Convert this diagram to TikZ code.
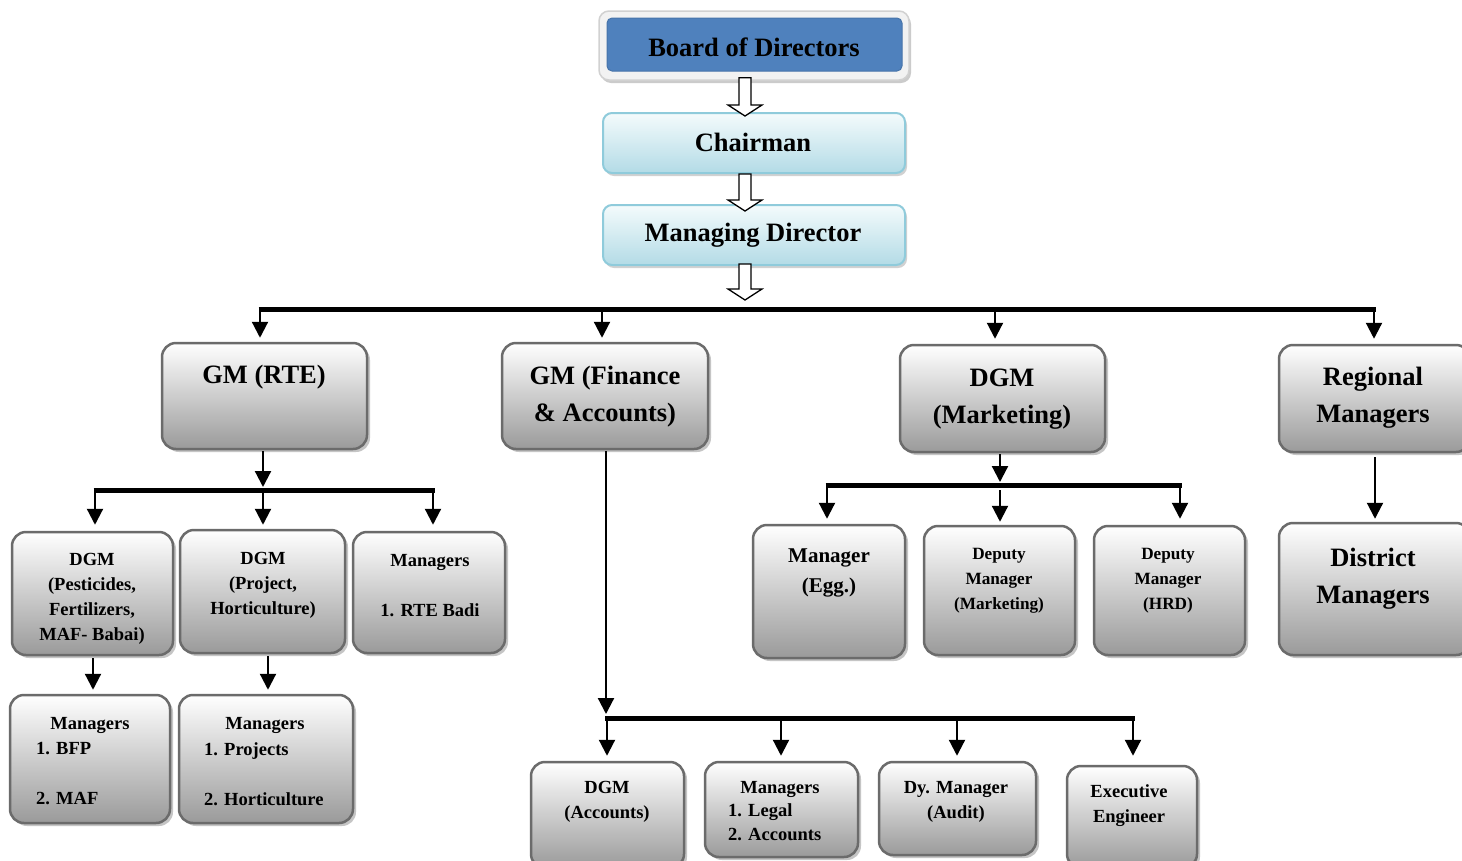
\documentclass[tikz,border=0pt]{standalone}
\usepackage{fontspec}
\setmainfont{Liberation Serif}
\usetikzlibrary{arrows.meta,shadows,calc}
\definecolor{boxborder}{HTML}{6B6B6B}
\definecolor{boxbottom}{HTML}{9A9A9A}
\definecolor{bodblue}{HTML}{4F81BD}
\definecolor{cyanborder}{HTML}{8FCBDB}
\definecolor{cyanbottom}{HTML}{B3DBE6}
\definecolor{cyantop}{HTML}{F4FBFC}
\tikzset{
  greybox/.style={draw=boxborder, line width=2.5pt, rounded corners=14pt,
    top color=white, bottom color=boxbottom,
    drop shadow={shadow xshift=3pt,shadow yshift=-3pt,fill=black!45,opacity=0.5}, inner sep=0pt},
  cyanbox/.style={draw=cyanborder, line width=2pt, rounded corners=9pt,
    top color=cyantop, bottom color=cyanbottom,
    drop shadow={shadow xshift=2pt,shadow yshift=-3pt,fill=black!40,opacity=0.45}, inner sep=0pt},
  framebox/.style={draw=black!18, fill=black!5, line width=1.5pt, rounded corners=10pt,
    drop shadow={shadow xshift=2pt,shadow yshift=-3pt,fill=black!40,opacity=0.5}, inner sep=0pt},
  bluebox/.style={draw=bodblue!90!black, fill=bodblue, line width=1pt, rounded corners=5pt, inner sep=0pt},
  bigtxt/.style={font=\fontsize{26.5}{37}\selectfont\bfseries, align=center, inner sep=0pt},
  smalltxt/.style={font=\fontsize{18.5}{25}\selectfont\bfseries, align=center, inner sep=0pt},
  legaltxt/.style={font=\fontsize{18.5}{24}\selectfont\bfseries, align=left, inner sep=0pt},
  eggtxt/.style={font=\fontsize{21}{30}\selectfont\bfseries, align=center, inner sep=0pt},
  deptxt/.style={font=\fontsize{17.2}{25}\selectfont\bfseries, align=center, inner sep=0pt},
  arr/.style={line width=2.2pt, -{Triangle[width=16pt,length=16pt]}},
  bar/.style={line width=5pt},
  hollow/.style={draw=black, fill=white, line width=1.3pt, line join=miter}
}
\newcommand\orgbox[6]{\node[#1,minimum width={#5-#3},minimum height={#6-#4}] (#2) at ({(#3+#5)/2},{(#4+#6)/2}) {};}
\newcommand\hollowarrow[2]{\draw[hollow] ($(#1)+(-6,0)$) -- ($(#1)+(6,0)$) -- ($(#2)+(6,-11)$) -- ($(#2)+(17,-11)$) -- (#2) -- ($(#2)+(-17,-11)$) -- ($(#2)+(-6,-11)$) -- cycle;}
\begin{document}
\begin{tikzpicture}[x=1pt,y=-1pt]
\clip (0,0) rectangle (1462,860);
\fill[white] (0,0) rectangle (1462,860);
% boxes
\orgbox{framebox}{bodframe}{599}{11}{909}{80}
\orgbox{bluebox}{bod}{607}{18}{902}{71}
\orgbox{cyanbox}{chair}{603}{113}{905}{173}
\orgbox{cyanbox}{md}{603}{205}{905}{265}
\orgbox{greybox}{gmrte}{162}{343}{367}{449}
\orgbox{greybox}{gmfin}{502}{343}{708}{449}
\orgbox{greybox}{dgmmkt}{900}{345}{1105}{452}
\orgbox{greybox}{regm}{1279}{345}{1470}{452}
\orgbox{greybox}{dgmpest}{12}{532}{173}{655}
\orgbox{greybox}{dgmproj}{180}{530}{345}{653}
\orgbox{greybox}{mgrrte}{353}{532}{505}{653}
\orgbox{greybox}{mgrbfp}{10}{695}{170}{823}
\orgbox{greybox}{mgrproj}{179}{695}{353}{823}
\orgbox{greybox}{dgmacc}{531}{762}{684}{868}
\orgbox{greybox}{mgrlegal}{705}{762}{858}{857}
\orgbox{greybox}{dyaudit}{879}{762}{1036}{855}
\orgbox{greybox}{exeng}{1067}{766}{1197}{868}
\orgbox{greybox}{mgregg}{753}{525}{905}{658}
\orgbox{greybox}{depmkt}{924}{526}{1075}{655}
\orgbox{greybox}{dephrd}{1094}{526}{1245}{655}
\orgbox{greybox}{distm}{1279}{523}{1470}{655}
% texts
\node[bigtxt] (bod-t) at (754,47) {Board of Directors};
\node[bigtxt] (chair-t) at (753,142) {Chairman};
\node[bigtxt] (md-t) at (753,235) {Managing Director};
\node[bigtxt] (gmrte-t) at (264,377) {GM (RTE)};
\node[bigtxt] (gmfin-t) at (605,397) {GM (Finance\\\& Accounts)};
\node[bigtxt] (dgmmkt-t) at (1002,399) {DGM\\(Marketing)};
\node[bigtxt] (regm-t) at (1373,398) {Regional\\Managers};
\node[bigtxt] (distm-t) at (1373,578.5) {District\\Managers};
\node[smalltxt] (dgmpest-t) at (92,598.5) {DGM\\(Pesticides,\\Fertilizers,\\MAF- Babai)};
\node[smalltxt] (dgmproj-t) at (263,585.5) {DGM\\(Project,\\Horticulture)};
\node[smalltxt] (mgrrte-t) at (430,586) {Managers\\[25pt]1. RTE Badi};
\node[smalltxt] (mgrbfp-h) at (90,725) {Managers};
\node[smalltxt,align=left,anchor=west] (mgrbfp-l) at (36,774) {1. BFP\\[25pt]2. MAF};
\node[smalltxt] (mgrproj-h) at (265,725) {Managers};
\node[smalltxt,align=left,anchor=west] (mgrproj-l) at (204,774) {1. Projects\\[25pt]2. Horticulture};
\node[smalltxt] (dgmacc-t) at (607,802) {DGM\\(Accounts)};
\node[smalltxt] (mgrlegal-h) at (780,789) {Managers};
\node[legaltxt,anchor=west] (mgrlegal-l) at (728,822) {1. Legal\\2. Accounts};
\node[smalltxt] (dyaudit-t) at (956,801.5) {Dy. Manager\\(Audit)};
\node[smalltxt] (exeng-t) at (1129,806) {Executive\\Engineer};
\node[eggtxt] (mgregg-t) at (829,573) {Manager\\(Egg.)};
\node[deptxt] (depmkt-t) at (999,581) {Deputy\\Manager\\(Marketing)};
\node[deptxt] (dephrd-t) at (1168,581) {Deputy\\Manager\\(HRD)};
% hollow arrows
\path (bodframe.south) ++(-9,-3) coordinate (h1s);
\coordinate (h1t) at ($(chair.north -| h1s)+(0,4)$);
\hollowarrow{h1s}{h1t}
\coordinate (h2s) at ($(chair.south -| h1s)+(0,0)$);
\coordinate (h2t) at ($(md.north -| h1s)+(0,7)$);
\hollowarrow{h2s}{h2t}
\coordinate (h3s) at ($(md.south -| h1s)+(0,-2)$);
\coordinate (tb0) at (745,307);
\coordinate (h3t) at ($(tb0)+(0,-7)$);
% top bar
\coordinate (tb1) at (260,309);
\coordinate (tb2) at (602,309);
\coordinate (tb3) at (995,309);
\coordinate (tb4) at (1374,309);
\draw[arr,shorten >=4pt] (tb1) -- (tb1 |- gmrte.north);
\draw[arr,shorten >=4pt] (tb2) -- (tb2 |- gmfin.north);
\draw[arr,shorten >=5pt] (tb3) -- (tb3 |- dgmmkt.north);
\draw[arr,shorten >=5pt] (tb4) -- (tb4 |- regm.north);
\draw[bar] ([xshift=-1.5pt]tb1) -- ([xshift=1.5pt]tb4);
\hollowarrow{h3s}{h3t}
% GM RTE branch
\coordinate (b2l) at (95,490);
\coordinate (b2c) at (263,490);
\coordinate (b2r) at (433,490);
\draw[arr,shorten <=1pt] (gmrte.south -| b2c) -- ($(b2c)+(0,-3)$);
\draw[bar] ([xshift=-1.5pt]b2l) -- ([xshift=1.5pt]b2r);
\draw[arr,shorten >=6pt] (b2l) -- (b2l |- dgmpest.north);
\draw[arr,shorten >=4pt] (b2c) -- (b2c |- dgmproj.north);
\draw[arr,shorten >=6pt] (b2r) -- (b2r |- mgrrte.north);
\coordinate (p1) at ([xshift=0.5pt]dgmpest.south);
\draw[arr,shorten <=2pt,shorten >=4pt] (p1) -- (p1 |- mgrbfp.north);
\coordinate (p2) at ([xshift=5.5pt]dgmproj.south);
\draw[arr,shorten <=2pt,shorten >=4pt] (p2) -- (p2 |- mgrproj.north);
% Finance branch
\coordinate (b3a) at (607,718);
\coordinate (b3b) at (781,718);
\coordinate (b3c) at (957,718);
\coordinate (b3d) at (1133,718);
\coordinate (p3) at ([xshift=1pt]gmfin.south);
\draw[arr,shorten <=1pt] (p3) -- ($(p3 |- b3a)+(0,-4)$);
\draw[bar] ([xshift=-2pt]b3a) -- ([xshift=1.5pt]b3d);
\draw[arr,shorten >=5pt] (b3a) -- (b3a |- dgmacc.north);
\draw[arr,shorten >=5pt] (b3b) -- (b3b |- mgrlegal.north);
\draw[arr,shorten >=5pt] (b3c) -- (b3c |- dyaudit.north);
\draw[arr,shorten >=9pt] (b3d) -- (b3d |- exeng.north);
% Marketing branch
\coordinate (b4l) at (827,485);
\coordinate (b4c) at (1000,485);
\coordinate (b4r) at (1180,485);
\draw[arr,shorten <=1pt] (dgmmkt.south -| b4c) -- ($(b4c)+(0,-3)$);
\draw[bar] ([xshift=-1.5pt]b4l) -- ([xshift=1.5pt]b4r);
\draw[arr,shorten >=5pt] (b4l) -- (b4l |- mgregg.north);
\draw[arr,shorten <=5pt,shorten >=3pt] (b4c) -- (b4c |- depmkt.north);
\draw[arr,shorten >=6pt] (b4r) -- (b4r |- dephrd.north);
% Regional branch
\coordinate (p4) at (1375,452);
\draw[arr,shorten <=5pt,shorten >=3pt] (p4) -- (p4 |- distm.north);
\end{tikzpicture}
\end{document}
